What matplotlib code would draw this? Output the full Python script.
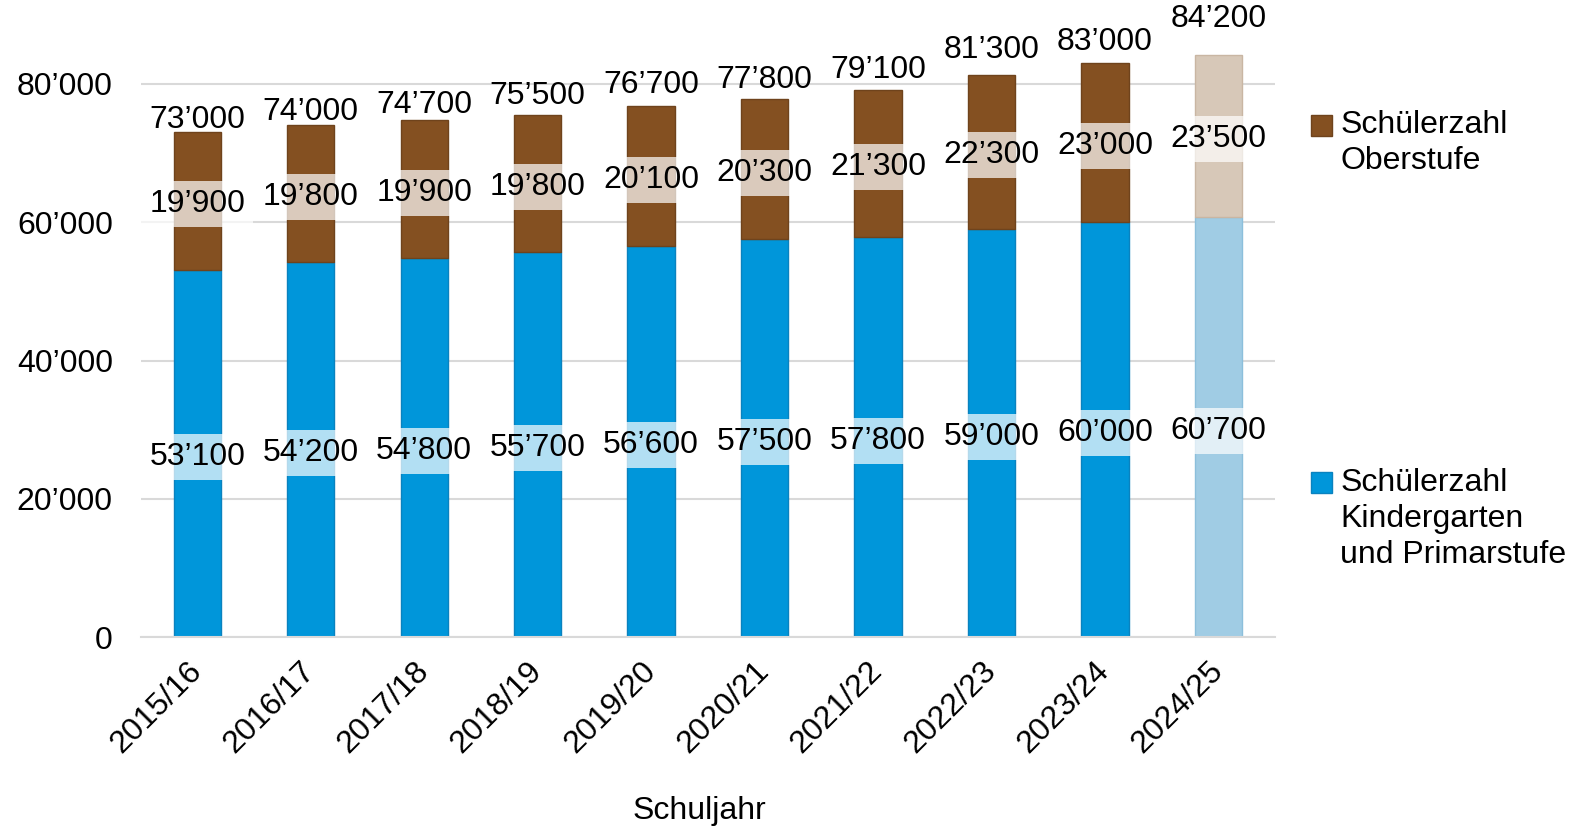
import matplotlib.pyplot as plt
from matplotlib.patches import Patch, Rectangle
from matplotlib.legend_handler import HandlerPatch
from matplotlib.ticker import FuncFormatter

# Data
years = ['2015/16', '2016/17', '2017/18', '2018/19', '2019/20',
         '2020/21', '2021/22', '2022/23', '2023/24', '2024/25']
primar = [53100, 54200, 54800, 55700, 56600, 57500, 57800, 59000, 60000, 60700]
ober = [19900, 19800, 19900, 19800, 20100, 20300, 21300, 22300, 23000, 23500]
totals = [p + o for p, o in zip(primar, ober)]

# gap (points) between bar top and total label baseline, as in the original
total_label_offset_pt = [3.2, 3.7, 5.6, 7.5, 10, 7.7, 8.6, 12, 9, 20]

blue = '#0096DA'
brown = '#845021'
blue_light = '#A0CCE4'
brown_light = '#D7C8B8'


def swiss(v):
    return f"{int(v):,}".replace(",", "\u2019")


plt.rcParams['font.family'] = ['Liberation Sans', 'DejaVu Sans']
plt.rcParams['font.size'] = 23

fig = plt.figure(figsize=(15.8, 8.3), dpi=100)
ax = fig.add_axes([0.089, 0.232, 0.718, 0.734])

x = list(range(len(years)))
blue_cols = [blue] * (len(years) - 1) + [blue_light]
brown_cols = [brown] * (len(years) - 1) + [brown_light]
blue_edges = ['#0A82BF'] * (len(years) - 1) + ['#8CBFDB']
brown_edges = ['#6F431C'] * (len(years) - 1) + ['#C9B6A3']

ax.bar(x, primar, width=0.417, color=blue_cols, edgecolor=blue_edges,
       linewidth=1, zorder=2)
ax.bar(x, ober, width=0.417, bottom=primar, color=brown_cols,
       edgecolor=brown_edges, linewidth=1, zorder=2)

# Segment labels with semi-transparent white boxes
box = dict(boxstyle='square,pad=0.25', fc='white', ec='none', alpha=0.7)
for i in x:
    ax.text(i, primar[i] / 2, swiss(primar[i]), ha='center',
            va='center_baseline', bbox=box, zorder=3)
    ax.text(i, primar[i] + ober[i] / 2, swiss(ober[i]), ha='center',
            va='center_baseline', bbox=box, zorder=3)
    ax.annotate(swiss(totals[i]), (i, totals[i]),
                xytext=(0, total_label_offset_pt[i]),
                textcoords='offset points', ha='center', va='baseline',
                zorder=3, annotation_clip=False)

# Axes styling
ax.set_xlim(-0.5, len(years) - 0.5)
ax.set_ylim(0, 88000)
ax.set_yticks([0, 20000, 40000, 60000, 80000])
ax.yaxis.set_major_formatter(FuncFormatter(lambda v, p: swiss(v)))
ax.grid(axis='y', color='#D9D9D9', linewidth=1.5, zorder=0)
ax.set_axisbelow(True)
for s in ['top', 'right', 'left']:
    ax.spines[s].set_visible(False)
ax.spines['bottom'].set_color('#D9D9D9')
ax.spines['bottom'].set_linewidth(1.5)
ax.tick_params(axis='y', length=0, pad=20)
ax.tick_params(axis='x', length=0, pad=21)
ax.set_xticks(x)
ax.set_xticklabels(years, rotation=45, ha='right', va='center',
                   rotation_mode='anchor')

ax.set_xlabel('Schuljahr', va='center')
ax.xaxis.set_label_coords(0.493, -0.285)


# Legend handles sit next to the first line of a multi-line label
def first_line_square(n_lines, pitch=26.3):
    def make(legend, orig_handle, xdescent, ydescent, width, height, fontsize):
        return Rectangle((-xdescent, -ydescent + (n_lines - 1) / 2 * pitch),
                         width, height)
    return HandlerPatch(patch_func=make)


h_ober = Patch(facecolor=brown, edgecolor='#6F431C')
h_prim = Patch(facecolor=blue, edgecolor='#0A82BF')
leg_kw = dict(loc='upper left', frameon=False, handlelength=0.65,
              handleheight=0.65, handletextpad=0.25, borderpad=0,
              borderaxespad=0)
fig.legend(handles=[h_ober], labels=['Sch\u00fclerzahl\nOberstufe'],
           bbox_to_anchor=(0.830, 0.867),
           handler_map={h_ober: first_line_square(2)}, **leg_kw)
fig.legend(handles=[h_prim],
           labels=['Sch\u00fclerzahl\nKindergarten\nund Primarstufe'],
           bbox_to_anchor=(0.830, 0.436),
           handler_map={h_prim: first_line_square(3)}, **leg_kw)
for t in fig.legends[0].get_texts() + fig.legends[1].get_texts():
    t.set_linespacing(1.25)

fig.savefig('out.png', dpi=100, facecolor='white')
